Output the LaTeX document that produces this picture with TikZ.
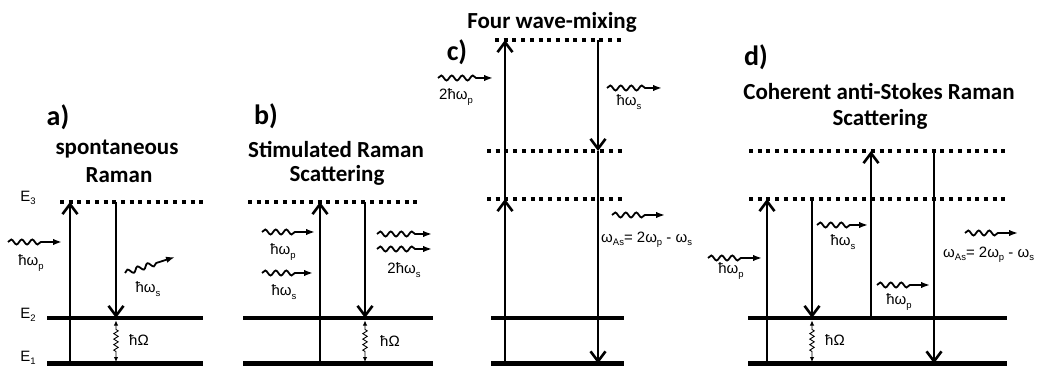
\documentclass[tikz,border=0pt]{standalone}
\usepackage{fontspec}
\setmainfont{Liberation Sans}
\newfontfamily\ttlfont{Carlito}
\usetikzlibrary{arrows.meta,decorations.pathmorphing}
\newcommand{\sbs}[1]{\raisebox{-0.22em}{\fontsize{9.5}{9.5}\selectfont #1}}
\tikzset{
  level/.style={line width=4.5pt},
  virt/.style={line width=3.8pt, dash pattern=on 4pt off 4.7pt},
  trans/.style={line width=2pt, -{Straight Barb[length=10pt,width=15pt,line width=2.6pt]}},
  photon/.style={line width=1.8pt, -{Latex[length=9pt,width=6.5pt]}, decorate,
     decoration={snake, amplitude=2.5pt, segment length=10.5pt, post length=16pt}},
  vib/.style={line width=0.9pt, {Latex[length=5pt,width=4.5pt]}-{Latex[length=5pt,width=4.5pt]}, decorate,
     decoration={zigzag, amplitude=2.2pt, segment length=5.5pt, pre length=9pt, post length=9pt}},
  lbl/.style={inner sep=0pt, font=\fontsize{15}{17}\selectfont},
  elbl/.style={inner sep=0pt, font=\fontsize{15}{17}\selectfont},
  ttl/.style={inner sep=0pt, font=\ttlfont\bfseries\fontsize{23}{27}\selectfont},
  plbl/.style={inner sep=0pt, font=\ttlfont\bfseries\fontsize{28}{32}\selectfont},
}
\begin{document}
\begin{tikzpicture}[x=1pt,y=-1pt]
\useasboundingbox (0,0) rectangle (1042,366);
% ---------------- panel a ----------------
\node[plbl] (aP) at (58,117) {a)};
\node[ttl] (aT1) at (117,149) {spontaneous};
\node[ttl] (aT2) at (119,175) {Raman};
\node[elbl] (aE3) at (28,198) {E\sbs{3}};
\node[elbl] (aE2) at (28,315) {E\sbs{2}};
\node[elbl] (aE1) at (28,358) {E\sbs{1}};
\coordinate (a3L) at (60,202); \coordinate (a3R) at (203,202);
\coordinate (a2L) at (47,318); \coordinate (a2R) at (203,318);
\coordinate (a1L) at (47,363.5); \coordinate (a1R) at (203,363.5);
\draw[virt] (a3L) -- (a3R);
\draw[level] (a2L) -- (a2R);
\draw[level] (a1L) -- (a1R);
\coordinate (aU0) at (70,363.5); \coordinate (aU1) at (70,202);
\coordinate (aD0) at (116,202); \coordinate (aD1) at (116,318);
\draw[trans] (aU0) -- (aU1);
\draw[trans] (aD0) -- (aD1);
\coordinate (aV0) at (116,320.5); \coordinate (aV1) at (116,362);
\draw[vib] (aV0) -- (aV1);
\node[lbl] (aOm) at (139,340) {ħΩ};
\coordinate (aWp0) at (8,242); \coordinate (aWp1) at (62,242);
\draw[photon] (aWp0) -- (aWp1);
\node[lbl] (aLp) at (31,263) {ħω\sbs{p}};
\coordinate (aWs0) at (125,273); \coordinate (aWs1) at (175,257);
\draw[photon] (aWs0) -- (aWs1);
\node[lbl] (aLs) at (148,289) {ħω\sbs{s}};
% ---------------- panel b ----------------
\node[plbl] (bP) at (266,116) {b)};
\node[ttl] (bT1) at (336,149) {Stimulated Raman};
\node[ttl] (bT2) at (337,175) {Scattering};
\coordinate (b3L) at (248,202); \coordinate (b3R) at (417,202);
\coordinate (b2L) at (243,318); \coordinate (b2R) at (433,318);
\coordinate (b1L) at (243,363.5); \coordinate (b1R) at (433,363.5);
\draw[virt] (b3L) -- (b3R);
\draw[level] (b2L) -- (b2R);
\draw[level] (b1L) -- (b1R);
\coordinate (bU0) at (320,363.5); \coordinate (bU1) at (320,202);
\coordinate (bD0) at (365,202); \coordinate (bD1) at (365,318);
\draw[trans] (bU0) -- (bU1);
\draw[trans] (bD0) -- (bD1);
\coordinate (bV0) at (365,320.5); \coordinate (bV1) at (365,362);
\draw[vib] (bV0) -- (bV1);
\node[lbl] (bOm) at (390,341) {ħΩ};
\coordinate (bWp0) at (262,232); \coordinate (bWp1) at (315,232);
\draw[photon] (bWp0) -- (bWp1);
\node[lbl] (bLp) at (283,252) {ħω\sbs{p}};
\coordinate (bWs0) at (262,273); \coordinate (bWs1) at (313,273);
\draw[photon] (bWs0) -- (bWs1);
\node[lbl] (bLs) at (284,292) {ħω\sbs{s}};
\coordinate (bWa0) at (377,234); \coordinate (bWa1) at (432,234);
\draw[photon] (bWa0) -- (bWa1);
\coordinate (bWb0) at (377,249); \coordinate (bWb1) at (432,249);
\draw[photon] (bWb0) -- (bWb1);
\node[lbl] (bL2s) at (404,270) {2ħω\sbs{s}};
% ---------------- panel c ----------------
\node[ttl] (cT) at (552,22) {Four wave-mixing};
\node[plbl] (cP) at (457,52) {c)};
\coordinate (c5L) at (495,40); \coordinate (c5R) at (622,40);
\coordinate (c4L) at (487,151); \coordinate (c4R) at (622,151);
\coordinate (c3L) at (487,199); \coordinate (c3R) at (624,199);
\coordinate (c2L) at (491,318); \coordinate (c2R) at (624,318);
\coordinate (c1L) at (491,363.5); \coordinate (c1R) at (624,363.5);
\draw[virt] (c5L) -- (c5R);
\draw[virt] (c4L) -- (c4R);
\draw[virt] (c3L) -- (c3R);
\draw[level] (c2L) -- (c2R);
\draw[level] (c1L) -- (c1R);
\coordinate (cU0) at (505,363.5); \coordinate (cU1) at (505,199); \coordinate (cU2) at (505,40);
\coordinate (cD0) at (598,40); \coordinate (cD1) at (598,151); \coordinate (cD2) at (598,363.5);
\draw[trans] (cU0) -- (cU1);
\draw[trans] (cU1) -- (cU2);
\draw[trans] (cD0) -- (cD1);
\draw[trans] (cD1) -- (cD2);
\coordinate (cWp0) at (438,78); \coordinate (cWp1) at (493,78);
\draw[photon] (cWp0) -- (cWp1);
\node[lbl] (cLp) at (456,97) {2ħω\sbs{p}};
\coordinate (cWs0) at (607,88); \coordinate (cWs1) at (662,88);
\draw[photon] (cWs0) -- (cWs1);
\node[lbl] (cLs) at (629,102) {ħω\sbs{s}};
\coordinate (cWa0) at (612,215); \coordinate (cWa1) at (665,215);
\draw[photon] (cWa0) -- (cWa1);
\node[lbl, anchor=west] (cLa) at (601,240) {ω\sbs{As}= 2ω\sbs{p} - ω\sbs{s}};
% ---------------- panel d ----------------
\node[plbl] (dP) at (756,57) {d)};
\node[ttl] (dT1) at (879,92) {Coherent anti-Stokes Raman};
\node[ttl] (dT2) at (880,119) {Scattering};
\coordinate (d4L) at (749,151); \coordinate (d4R) at (1007,151);
\coordinate (d3L) at (749,199); \coordinate (d3R) at (1007,199);
\coordinate (d2L) at (748,318); \coordinate (d2R) at (1007,318);
\coordinate (d1L) at (748,363.5); \coordinate (d1R) at (1007,363.5);
\draw[virt] (d4L) -- (d4R);
\draw[virt] (d3L) -- (d3R);
\draw[level] (d2L) -- (d2R);
\draw[level] (d1L) -- (d1R);
\coordinate (dA0) at (767,363.5); \coordinate (dA1) at (767,199);
\coordinate (dB0) at (812,199); \coordinate (dB1) at (812,318);
\coordinate (dC0) at (871,318); \coordinate (dC1) at (871,151);
\coordinate (dE0) at (934,151); \coordinate (dE1) at (934,363.5);
\draw[trans] (dA0) -- (dA1);
\draw[trans] (dB0) -- (dB1);
\draw[trans, line width=2.8pt] (dC0) -- (dC1);
\draw[trans] (dE0) -- (dE1);
\coordinate (dV0) at (812,320.5); \coordinate (dV1) at (812,362);
\draw[vib] (dV0) -- (dV1);
\node[lbl] (dOm) at (835,340) {ħΩ};
\coordinate (dWp0) at (708,258); \coordinate (dWp1) at (762,258);
\draw[photon] (dWp0) -- (dWp1);
\node[lbl] (dLp) at (731,271) {ħω\sbs{p}};
\coordinate (dWs0) at (817,225); \coordinate (dWs1) at (868,225);
\draw[photon] (dWs0) -- (dWs1);
\node[lbl] (dLs) at (843,242) {ħω\sbs{s}};
\coordinate (dWq0) at (877,285); \coordinate (dWq1) at (930,285);
\draw[photon] (dWq0) -- (dWq1);
\node[lbl] (dLq) at (899,302) {ħω\sbs{p}};
\coordinate (dWa0) at (965,233); \coordinate (dWa1) at (1018,233);
\draw[photon] (dWa0) -- (dWa1);
\node[lbl, anchor=west] (dLa) at (943,255) {ω\sbs{As}= 2ω\sbs{p} - ω\sbs{s}};
\end{tikzpicture}
\end{document}
